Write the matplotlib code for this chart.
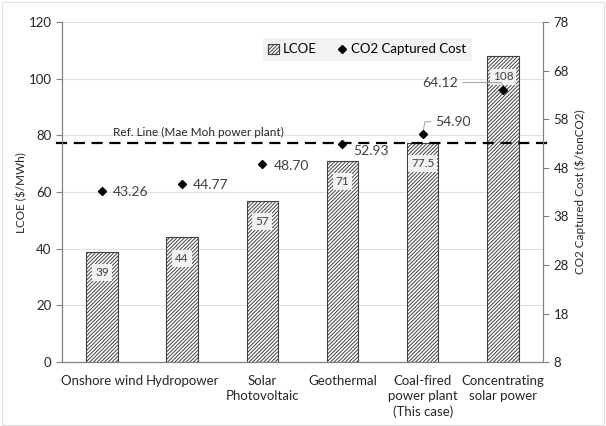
import matplotlib
matplotlib.use('Agg')
import matplotlib.pyplot as plt
from matplotlib.patches import Patch, Rectangle
from matplotlib.lines import Line2D

categories = ['Onshore wind', 'Hydropower', 'Solar\nPhotovoltaic', 'Geothermal',
              'Coal-fired\npower plant\n(This case)', 'Concentrating\nsolar power']
lcoe = [39, 44, 57, 71, 77.5, 108]
co2_cost = [43.26, 44.77, 48.70, 52.93, 54.90, 64.12]
ref_lcoe = 77.5
ref_label = 'Ref. Line (Mae Moh power plant)'

plt.rcParams['font.family'] = ['Lato', 'DejaVu Sans']
plt.rcParams['hatch.linewidth'] = 0.7
plt.rcParams['hatch.color'] = '#505050'
HATCH = '/' * 9

fig = plt.figure(figsize=(6.06, 4.26), dpi=100)
ax = fig.add_axes([0.102, 0.150, 0.794, 0.798])
ax2 = ax.twinx()

x = list(range(len(categories)))
bars = ax.bar(x, lcoe, width=0.39, color='white', edgecolor='#404040',
              linewidth=0.8, hatch=HATCH, zorder=2)

# value labels sit just inside the top of each bar
for rect, v in zip(bars, lcoe):
    ax.annotate(f'{v:g}', (rect.get_x() + rect.get_width() / 2, v),
                xytext=(0, -15), textcoords='offset points', ha='center', va='center',
                fontsize=8.5, color='#404040', zorder=4,
                bbox=dict(boxstyle='square,pad=0.25', fc='#f2f2f2', ec='none'))

ax.set_xlim(-0.5, len(categories) - 0.5)
ax.set_ylim(0, 120)
ax.set_yticks(range(0, 121, 20))
ax.set_xticks(x)
ax.set_xticklabels(categories, fontsize=9.5, color='#262626', linespacing=1.35)
ax.tick_params(axis='x', length=0, pad=9)
ax.tick_params(axis='y', labelsize=9.5, colors='#262626', length=4, color='#808080')
ax.grid(axis='y', color='#e0e0e0', linewidth=0.8, zorder=0)
ax.set_axisbelow(True)
ax.set_ylabel('LCOE ($/MWh)', fontsize=8.5, color='#262626', labelpad=1)

# reference line runs a little past both spines
ax.plot([-0.012, 1.012], [ref_lcoe, ref_lcoe], transform=ax.get_yaxis_transform(),
        color='black', linestyle=(0, (5, 3)), linewidth=1.6, clip_on=False, zorder=5)
ax.text(0.106, ref_lcoe + 1.6, ref_label, transform=ax.get_yaxis_transform(),
        fontsize=8.5, color='#262626', va='bottom', ha='left')

ax2.set_ylim(8, 78)
ax2.set_yticks(range(8, 79, 10))
ax2.tick_params(axis='y', labelsize=9.5, colors='#262626', length=4, color='#808080')
ax2.set_ylabel('CO2 Captured Cost ($/tonCO2)', fontsize=8.5, color='#262626', labelpad=4)
ax2.plot(x, co2_cost, linestyle='none', marker='D', markersize=4.5,
         color='black', zorder=6)

for i, v in enumerate(co2_cost):
    if i == 4:
        ax2.annotate(f'{v:.2f}', (i, v), xytext=(9, 9), textcoords='offset points',
                     ha='left', va='center', fontsize=10, color='#404040',
                     arrowprops=dict(arrowstyle='-', color='#a0a0a0', lw=0.7,
                                     shrinkA=1, shrinkB=2,
                                     connectionstyle='angle,angleA=180,angleB=80,rad=0'))
    elif i == 5:
        ax2.annotate(f'{v:.2f}', (i, v), xytext=(-32, 5), textcoords='offset points',
                     ha='right', va='center', fontsize=10, color='#404040',
                     arrowprops=dict(arrowstyle='-', color='#a0a0a0', lw=0.7,
                                     shrinkA=1, shrinkB=3,
                                     connectionstyle='angle,angleA=0,angleB=100,rad=0'))
    elif i == 3:
        ax2.annotate(f'{v:.2f}', (i, v), xytext=(8, -5), textcoords='offset points',
                     ha='left', va='center', fontsize=10, color='#404040')
    else:
        ax2.annotate(f'{v:.2f}', (i, v), xytext=(8, -1), textcoords='offset points',
                     ha='left', va='center', fontsize=10, color='#404040')

for a in (ax, ax2):
    a.spines['top'].set_visible(False)
    for s in ('left', 'right', 'bottom'):
        a.spines[s].set_color('#808080')
        a.spines[s].set_linewidth(0.8)

handles = [Patch(facecolor='white', edgecolor='#404040', hatch=HATCH, linewidth=0.8),
           Line2D([], [], linestyle='none', marker='D', markersize=4.5, color='black')]
leg = ax2.legend(handles, ['LCOE', 'CO2 Captured Cost'], ncol=2, loc='center',
                 bbox_to_anchor=(0.635, 0.92), frameon=True, fancybox=False,
                 fontsize=9.5, handlelength=0.8, handleheight=0.8, handletextpad=0.3,
                 columnspacing=1.5, borderpad=0.4)
leg.get_frame().set_facecolor('#f2f2f2')
leg.get_frame().set_edgecolor('none')
leg.get_frame().set_alpha(1)

fig.patches.append(Rectangle((0.003, 0.003), 0.994, 0.992, transform=fig.transFigure,
                             fill=False, edgecolor='#e0e0e0', linewidth=0.8))

fig.savefig('out.png', dpi=100)
